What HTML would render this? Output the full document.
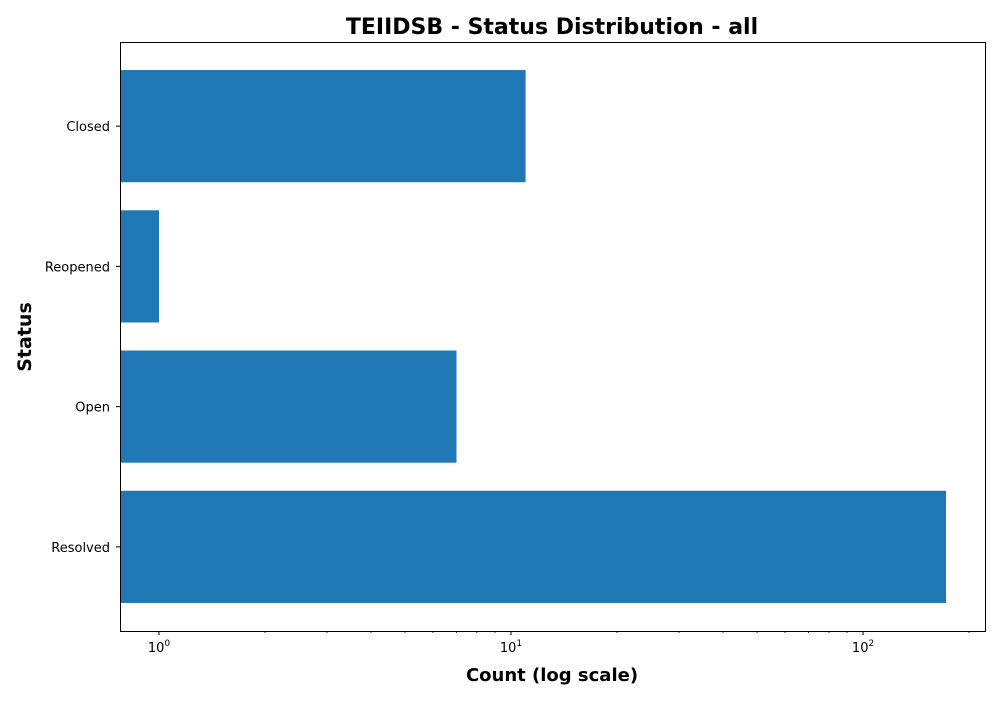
<!DOCTYPE html>
<html><head><meta charset="utf-8"><style>
body{margin:0;background:#fff;font-family:"DejaVu Sans","Liberation Sans",sans-serif;}
svg text{font-family:"DejaVu Sans","Liberation Sans",sans-serif;}
</style></head><body>
<svg id="chart" width="1000" height="700" xmlns="http://www.w3.org/2000/svg">
<text x="552" y="34" text-anchor="middle" font-size="22" font-weight="bold">TEIIDSB - Status Distribution - all</text>
<g id="bars"></g>
<g id="axes"></g>
<rect x="120.5" y="42.5" width="865" height="589" fill="none" stroke="#000" stroke-width="1"/>
<text x="552" y="681" text-anchor="middle" font-size="18" font-weight="bold">Count (log scale)</text>
<text x="31" y="337" text-anchor="middle" font-size="19" font-weight="bold" transform="rotate(-90 31 337)">Status</text>
</svg>
<script>
const categories = ["Closed","Reopened","Open","Resolved"];
const counts = [11,1,7,172];
const majorTicks = [1,10,100];
const tickLabels = ["0","1","2"];
const minorTicks = [2,3,4,5,6,7,8,9,20,30,40,50,60,70,80,90,200];

const NS="http://www.w3.org/2000/svg";
const pLeft=120, pRight=985, pTop=42, pBottom=631;
const xmin=Math.log10(0.775), xmax=Math.log10(222);
function xs(v){return pLeft+(Math.log10(v)-xmin)/(xmax-xmin)*(pRight-pLeft);}
const band=(pBottom-pTop)/(categories.length+0.2);
function yc(i){return pTop+band*(i+0.6);}
function mk(tag,attrs,parent){const e=document.createElementNS(NS,tag);for(const k in attrs)e.setAttribute(k,attrs[k]);parent.appendChild(e);return e;}
const barsG=document.getElementById('bars'), axesG=document.getElementById('axes');
categories.forEach((c,i)=>{
  const h=band*0.8;
  const r=mk('rect',{x:pLeft,y:yc(i)-h/2,width:xs(counts[i])-pLeft,height:h,fill:'#1f77b4'},barsG);
  
  
  const t=mk('line',{x1:pLeft-4,x2:pLeft,y1:yc(i),y2:yc(i),stroke:'#000'},axesG);
  
  
  const l=mk('text',{x:pLeft-10,y:yc(i)+5,'text-anchor':'end','font-size':13},axesG);
  l.textContent=c;
  
  
});
majorTicks.forEach((v,i)=>{
  const x=xs(v);
  const t=mk('line',{x1:x,x2:x,y1:pBottom,y2:pBottom+4,stroke:'#000'},axesG);
  
  
  const l=mk('text',{x:x,y:pBottom+21,'text-anchor':'middle','font-size':13},axesG);
  
  
  const b=document.createElementNS(NS,'tspan');b.textContent='10';l.appendChild(b);
  const s=document.createElementNS(NS,'tspan');s.setAttribute('dy','-6');s.setAttribute('font-size','9');s.textContent=tickLabels[i];l.appendChild(s);
});
minorTicks.forEach(v=>{
  const x=xs(v);
  const t=mk('line',{x1:x,x2:x,y1:pBottom,y2:pBottom+2,stroke:'#000','stroke-width':0.8},axesG);
  
  
});
</script>
</body></html>
